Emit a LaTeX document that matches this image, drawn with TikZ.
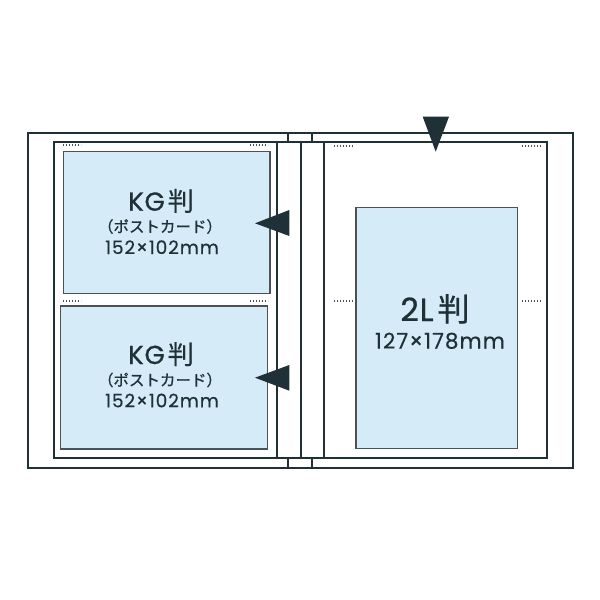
\documentclass[tikz,border=0pt]{standalone}
\usepackage{fontspec}
\setmainfont{Poppins}
\newfontfamily\jp{Noto Sans CJK JP}
\newfontfamily\lat[LetterSpace=5,FakeBold=0.4]{Poppins}
\newfontfamily\latb[LetterSpace=3,FakeBold=0.8]{Poppins}
\newfontfamily\jpb[FakeBold=0.8]{Noto Sans CJK JP}
\definecolor{dk}{HTML}{1F3136}
\definecolor{sl}{HTML}{4A5255}
\definecolor{lb}{HTML}{D5EBF8}
\begin{document}
\begin{tikzpicture}[x=1pt,y=-1pt,
  frame/.style={draw=dk, line width=2pt},
  slot/.style={draw=sl, fill=lb, line width=1.5pt, inner sep=0pt, outer sep=0pt},
  dotline/.style={draw=sl, line width=1.4pt, dash pattern=on 1.4pt off 1.6pt},
  tri/.style={fill=dk},
  big/.style={font=\latb\fontsize{26}{26}\selectfont, text=dk, inner sep=0pt, anchor=base},
  mid/.style={font=\jpb\fontsize{15.5}{15.5}\selectfont, text=dk, inner sep=0pt},
  num/.style={font=\lat\fontsize{18.5}{18.5}\selectfont, text=dk, inner sep=0pt, anchor=base}]
\useasboundingbox (0,0) rectangle (600,600);
\fill[white] (0,0) rectangle (600,600);
% outer cover
\draw[frame] (27.5,132.7) rectangle (573.3,468.3);
% pages
\draw[frame] (54,142.3) rectangle (276.7,458.3);
\draw[frame] (324,142.3) rectangle (547.3,458.3);
\draw[frame] (276.7,142.3) -- (324,142.3);
\draw[frame] (276.7,458.3) -- (324,458.3);
\draw[frame] (300.7,142.3) -- (300.7,458.3);
\draw[frame] (288.3,132.7) -- (288.3,142.3);
\draw[frame] (312.3,132.7) -- (312.3,142.3);
\draw[frame] (288.3,458.3) -- (288.3,468.3);
\draw[frame] (312.3,458.3) -- (312.3,468.3);
% slots
\node[slot, minimum width=206.7pt, minimum height=141.6pt] (kg1) at (166.7,222.5) {};
\node[slot, minimum width=206.6pt, minimum height=143pt] (kg2) at (164,377.5) {};
\node[slot, minimum width=161.3pt, minimum height=241pt] (l2) at (436.7,327.8) {};
% dots
\draw[dotline] (63,145) -- (81,145);
\draw[dotline] (250,145) -- (268,145);
\draw[dotline] (63,301) -- (81,301);
\draw[dotline] (250,301) -- (268,301);
\draw[dotline] (334,146) -- (353,146);
\draw[dotline] (522,146) -- (541,146);
\draw[dotline] (334,301) -- (353,301);
\draw[dotline] (522,301) -- (541,301);
% texts
\node[big] (t1a) at (161,210.7) {KG\hspace{3pt}{\jpb 判}};
\node[mid] (t1b) at (160,226.5) {（ポストカード）};
\node[num] (t1c) at (162,254) {152×102mm};
\node[big] (t2a) at (161,364) {KG\hspace{3pt}{\jpb 判}};
\node[mid] (t2b) at (160,380) {（ポストカード）};
\node[num] (t2c) at (162,407.3) {152×102mm};
\node[big, font=\latb\fontsize{32}{32}\selectfont] (t3a) at (435,321) {2L\hspace{4pt}{\jpb 判}};
\node[num, font=\lat\fontsize{21.5}{21.5}\selectfont] (t3b) at (440,348.5) {127×178mm};
% triangles
\fill[tri] (422.7,116.7) -- (449,116.7) -- (435.7,151.7) -- cycle;
\fill[tri] (255,223.3) -- (289.3,210) -- (289.3,236) -- cycle;
\fill[tri] (255,377.7) -- (289.3,365) -- (289.3,390.7) -- cycle;
\end{tikzpicture}
\end{document}
